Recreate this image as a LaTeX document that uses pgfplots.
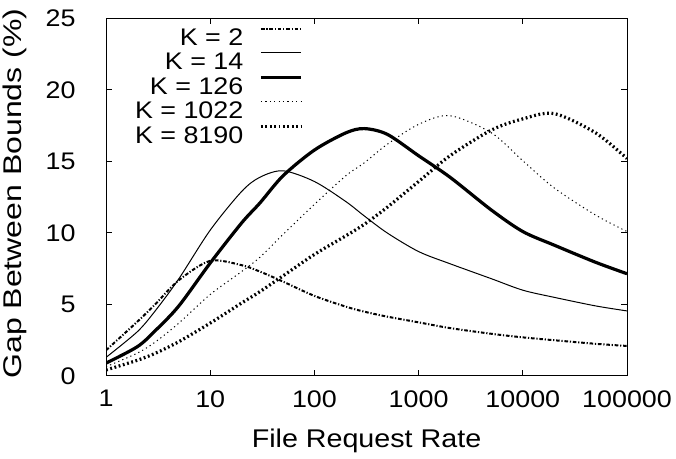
\documentclass[border=0pt]{standalone}
\usepackage{fontspec}
\setmainfont[FakeStretch=1.12]{Liberation Sans}
\newfontfamily\ylabfont[FakeStretch=1.25]{Liberation Sans}
\usepackage{pgfplots}
\usepackage{pgfplotstable}
\pgfplotsset{compat=1.18}

% x = file request rate, one column per K
\pgfplotstableread{
x      k2    k14   k126  k1022 k8190
1      1.80  1.30  0.90  0.65  0.42
2      3.80  3.10  2.05  1.60  1.10
3      5.05  4.60  3.20  2.40  1.60
5      6.70  6.80  4.90  3.70  2.40
10     8.05  10.20 7.90  5.70  3.70
20     7.75  12.90 10.70 7.30  5.10
30     7.30  13.90 12.10 8.30  5.90
50     6.60  14.35 14.00 9.90  7.00
100    5.60  13.60 15.80 12.00 8.50
200    4.85  12.20 17.00 14.00 9.80
300    4.50  11.20 17.30 14.90 10.60
500    4.15  10.00 16.90 16.20 11.80
1000   3.75  8.70  15.40 17.60 13.60
2000   3.35  7.85  13.90 18.20 15.40
5000   2.95  6.80  11.60 17.00 17.20
10000  2.70  6.00  10.10 15.05 17.98
20000  2.50  5.50  9.15  13.15 18.35
50000  2.25  4.90  7.95  11.25 17.00
100000 2.10  4.55  7.15  10.10 15.20
}\gaps

\begin{document}
\fontsize{12}{14}\selectfont
\begin{tikzpicture}
\begin{axis}[
    scale only axis,
    width=260.5pt, height=178.75pt,
    xmode=log, log basis x=10,
    xmin=1, xmax=100000, ymin=0, ymax=25,
    xtick={1,10,100,1000,10000,100000},
    xticklabels={1,10,100,1000,10000,100000},
    xminorticks=false,
    ytick={0,5,10,15,20,25},
    tick align=inside,
    major tick length=3pt,
    tick style={black, line width=0.5pt},
    axis line style={black, line width=0.5pt},
    /pgf/number format/assume math mode=true,
    tick label style={font=\fontsize{12}{14}\selectfont},
    xticklabel style={yshift=-3pt},
    yticklabel style={xshift=-11pt},
    xlabel={File Request Rate},
    ylabel={Gap Between Bounds (\%)},
    x label style={font=\fontsize{12.8}{15}\selectfont,
        at={(axis description cs:0.5,-0.182)}, anchor=center},
    y label style={font=\ylabfont\fontsize{12.8}{15}\selectfont,
        at={(axis description cs:-0.1747,0.51)}, anchor=center},
    legend plot pos=right,
    legend cell align=right,
    legend style={draw=none, fill=none, inner sep=0pt,
        font=\fontsize{12}{14}\selectfont,
        nodes={inner sep=0pt, text height=8.6pt, text depth=0pt},
        at={(axis description cs:0.378,0.975)}, anchor=north east,
        row sep=3.4pt, column sep=8pt},
    legend image code/.code={\draw[#1] (0pt,4pt) -- (20pt,4pt);},
    every axis plot/.append style={smooth, tension=0.5},
]
\addplot[black, line width=1pt, dash pattern=on 1.8pt off 0.9pt on 0.6pt off 0.9pt] table[x=x, y=k2] {\gaps};
\addlegendentry{K = 2}
\addplot[black, line width=0.5pt] table[x=x, y=k14] {\gaps};
\addlegendentry{K = 14}
\addplot[black, line width=1.6pt] table[x=x, y=k126] {\gaps};
\addlegendentry{K = 126}
\addplot[black, line width=0.5pt, dash pattern=on 0.6pt off 1.6pt] table[x=x, y=k1022] {\gaps};
\addlegendentry{K = 1022}
\addplot[black, line width=1.6pt, dash pattern=on 0.9pt off 1.3pt] table[x=x, y=k8190] {\gaps};
\addlegendentry{K = 8190}
\coordinate (bbsw) at (rel axis cs:-0.2035,-0.2322);
\coordinate (bbne) at (rel axis cs:1.094,1.0517);
\end{axis}
\pgfresetboundingbox
\useasboundingbox (bbsw) rectangle (bbne);
\end{tikzpicture}
\end{document}
